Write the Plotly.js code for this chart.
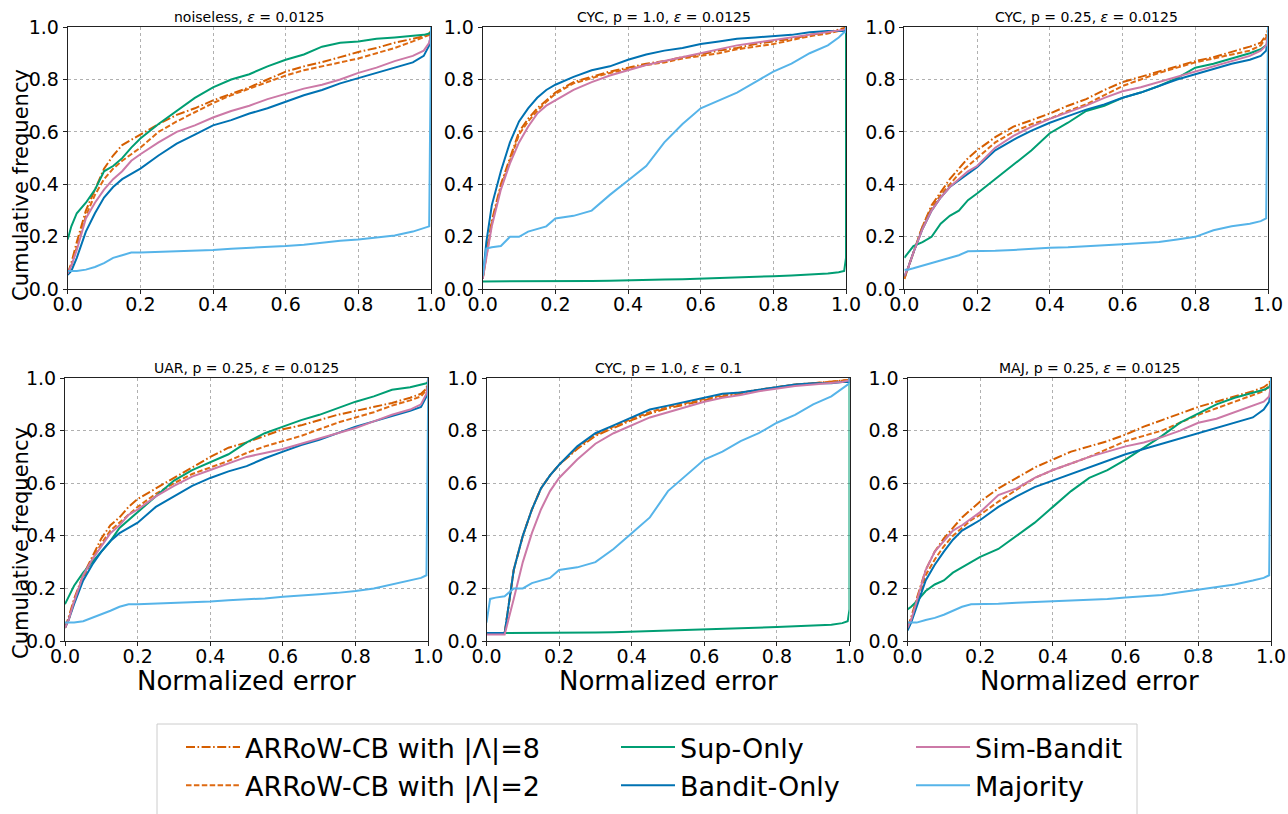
<!DOCTYPE html>
<html>
<head>
<meta charset="utf-8">
<script src="https://cdn.plot.ly/plotly-3.0.1.min.js"></script>
<style>html,body{margin:0;padding:0;background:#fff;}</style>
</head>
<body>
<div id="chart" style="width:1288px;height:814px;"></div>
<script>
// ---------- data ----------
const XG = [0, 0.01, 0.025, 0.05, 0.075, 0.1, 0.125, 0.15, 0.175, 0.2, 0.25, 0.3, 0.35, 0.4, 0.45, 0.5, 0.55, 0.6, 0.65, 0.7, 0.75, 0.8, 0.85, 0.9, 0.95, 0.98, 0.995, 1, 1];

const PANEL_TITLES = ['noiseless, <i>ε</i> = 0.0125', 'CYC, p = 1.0, <i>ε</i> = 0.0125', 'CYC, p = 0.25, <i>ε</i> = 0.0125',
                      'UAR, p = 0.25, <i>ε</i> = 0.0125', 'CYC, p = 1.0, <i>ε</i> = 0.1', 'MAJ, p = 0.25, <i>ε</i> = 0.0125'];
const SERIES_NAMES = ['ARRoW-CB with |Λ|=8', 'ARRoW-CB with |Λ|=2', 'Sup-Only', 'Bandit-Only', 'Sim-Bandit', 'Majority'];
const X_TICKS = [0, 0.2, 0.4, 0.6, 0.8, 1.0];
const TICK_TEXT = ['0.0', '0.2', '0.4', '0.6', '0.8', '1.0'];

// panel 1: noiseless
const noiseless_a8 = [0.06,0.10,0.18,0.30,0.38,0.46,0.51,0.55,0.57,0.59,0.63,0.665,0.69,0.72,0.745,0.77,0.80,0.83,0.85,0.866,0.885,0.905,0.92,0.94,0.955,0.965,0.975,0.985,1.0];
const noiseless_a2 = [0.06,0.09,0.16,0.28,0.36,0.42,0.46,0.49,0.515,0.54,0.60,0.64,0.675,0.71,0.74,0.765,0.79,0.815,0.835,0.85,0.865,0.88,0.90,0.92,0.945,0.96,0.97,0.98,1.0];
const noiseless_sup = [0.19,0.24,0.29,0.33,0.38,0.45,0.47,0.50,0.54,0.575,0.63,0.68,0.73,0.77,0.80,0.82,0.85,0.875,0.895,0.925,0.94,0.945,0.955,0.96,0.965,0.97,0.975,0.98,1.0];
const noiseless_bandit = [0.055,0.07,0.12,0.22,0.29,0.35,0.39,0.42,0.44,0.46,0.51,0.555,0.59,0.625,0.645,0.67,0.69,0.715,0.74,0.76,0.785,0.805,0.825,0.845,0.865,0.89,0.93,0.98,1.0];
const noiseless_sim = [0.06,0.09,0.15,0.27,0.33,0.38,0.42,0.45,0.49,0.515,0.56,0.60,0.625,0.655,0.68,0.70,0.725,0.745,0.765,0.78,0.80,0.825,0.845,0.87,0.89,0.91,0.94,0.97,1.0];
const noiseless_maj = [0.07,0.07,0.07,0.075,0.085,0.10,0.12,0.13,0.14,0.14,0.142,0.145,0.148,0.15,0.155,0.158,0.16,0.165,0.17,0.178,0.185,0.19,0.198,0.205,0.22,0.235,0.24,0.98,1.0];

// panel 2: CYC p=1.0 eps=0.0125
const cyc1_a8 = [0.04,0.14,0.26,0.40,0.50,0.60,0.65,0.69,0.72,0.75,0.79,0.81,0.83,0.845,0.86,0.87,0.885,0.895,0.91,0.92,0.935,0.945,0.955,0.97,0.98,0.99,0.995,0.998,1.0];
const cyc1_a2 = [0.04,0.13,0.25,0.39,0.49,0.59,0.64,0.68,0.715,0.745,0.785,0.805,0.825,0.84,0.855,0.865,0.88,0.89,0.90,0.915,0.925,0.935,0.95,0.965,0.975,0.985,0.99,0.995,1.0];
const cyc1_sup = [0.03,0.03,0.03,0.03,0.03,0.03,0.03,0.03,0.03,0.03,0.031,0.032,0.033,0.035,0.036,0.037,0.038,0.04,0.042,0.045,0.047,0.05,0.053,0.056,0.06,0.065,0.07,0.12,1.0];
const cyc1_bandit = [0.04,0.18,0.32,0.45,0.56,0.64,0.69,0.73,0.76,0.78,0.81,0.835,0.85,0.875,0.895,0.91,0.92,0.935,0.945,0.955,0.96,0.965,0.97,0.98,0.985,0.985,0.985,0.985,1.0];
const cyc1_sim = [0.04,0.12,0.24,0.38,0.48,0.56,0.62,0.67,0.70,0.72,0.76,0.79,0.815,0.835,0.855,0.87,0.885,0.90,0.915,0.93,0.94,0.95,0.96,0.97,0.98,0.985,0.99,0.995,1.0];
const cyc1_maj = [0.05,0.155,0.16,0.165,0.20,0.20,0.22,0.23,0.24,0.27,0.28,0.30,0.36,0.415,0.47,0.56,0.63,0.69,0.72,0.75,0.79,0.83,0.86,0.90,0.93,0.96,0.98,0.98,1.0];

// panel 3: CYC p=0.25 eps=0.0125
const cyc25_a8 = [0.04,0.08,0.14,0.24,0.32,0.37,0.42,0.46,0.50,0.53,0.58,0.62,0.645,0.67,0.70,0.725,0.76,0.79,0.81,0.83,0.85,0.87,0.885,0.905,0.925,0.94,0.97,0.99,1.0];
const cyc25_a2 = [0.04,0.08,0.14,0.24,0.31,0.36,0.40,0.44,0.47,0.50,0.56,0.60,0.63,0.65,0.68,0.705,0.74,0.775,0.80,0.825,0.845,0.865,0.88,0.895,0.91,0.93,0.96,0.985,1.0];
const cyc25_sup = [0.12,0.14,0.165,0.18,0.20,0.25,0.28,0.30,0.34,0.365,0.42,0.475,0.53,0.595,0.635,0.68,0.70,0.73,0.75,0.775,0.805,0.845,0.86,0.88,0.90,0.915,0.93,0.94,1.0];
const cyc25_bandit = [0.05,0.08,0.14,0.23,0.30,0.35,0.39,0.415,0.44,0.465,0.53,0.57,0.605,0.635,0.66,0.685,0.705,0.73,0.75,0.775,0.80,0.82,0.84,0.86,0.875,0.89,0.91,0.96,1.0];
const cyc25_sim = [0.05,0.08,0.14,0.23,0.30,0.35,0.39,0.42,0.45,0.47,0.54,0.585,0.62,0.65,0.675,0.70,0.73,0.755,0.77,0.79,0.81,0.83,0.85,0.87,0.89,0.91,0.93,0.97,1.0];
const cyc25_maj = [0.075,0.075,0.08,0.09,0.10,0.11,0.12,0.13,0.145,0.145,0.147,0.15,0.155,0.158,0.16,0.165,0.168,0.172,0.175,0.18,0.19,0.20,0.225,0.24,0.25,0.26,0.27,0.98,1.0];

// panel 4: UAR p=0.25 eps=0.0125
const uar_a8 = [0.05,0.09,0.16,0.25,0.32,0.39,0.44,0.47,0.51,0.54,0.58,0.62,0.66,0.70,0.735,0.755,0.78,0.805,0.82,0.84,0.86,0.875,0.89,0.905,0.925,0.94,0.96,0.99,1.0];
const uar_a2 = [0.05,0.08,0.15,0.24,0.31,0.37,0.42,0.45,0.48,0.51,0.56,0.60,0.635,0.66,0.685,0.715,0.74,0.76,0.78,0.805,0.83,0.85,0.87,0.895,0.915,0.93,0.955,0.98,1.0];
const uar_sup = [0.14,0.17,0.21,0.26,0.30,0.34,0.38,0.43,0.46,0.49,0.55,0.61,0.65,0.68,0.71,0.755,0.79,0.815,0.84,0.86,0.885,0.91,0.93,0.955,0.965,0.975,0.98,0.985,1.0];
const uar_bandit = [0.05,0.08,0.14,0.23,0.29,0.34,0.38,0.41,0.43,0.45,0.51,0.55,0.59,0.62,0.645,0.665,0.695,0.72,0.745,0.765,0.79,0.815,0.835,0.855,0.875,0.89,0.93,0.98,1.0];
const uar_sim = [0.05,0.08,0.15,0.25,0.31,0.36,0.41,0.44,0.48,0.50,0.55,0.59,0.625,0.65,0.675,0.70,0.715,0.73,0.75,0.77,0.79,0.81,0.835,0.86,0.88,0.90,0.94,0.98,1.0];
const uar_maj = [0.07,0.07,0.07,0.075,0.088,0.10,0.115,0.13,0.14,0.14,0.142,0.145,0.148,0.15,0.155,0.158,0.162,0.168,0.172,0.178,0.183,0.19,0.20,0.215,0.23,0.24,0.25,0.99,1.0];

// panel 5: CYC p=1.0 eps=0.1
const cyc1e_a8 = [0.03,0.03,0.03,0.03,0.27,0.40,0.50,0.58,0.63,0.67,0.73,0.78,0.81,0.84,0.865,0.885,0.90,0.915,0.93,0.94,0.955,0.965,0.975,0.98,0.985,0.99,0.992,0.995,1.0];
const cyc1e_a2 = [0.03,0.03,0.03,0.03,0.27,0.40,0.50,0.58,0.63,0.67,0.735,0.785,0.815,0.845,0.87,0.89,0.905,0.92,0.935,0.945,0.955,0.965,0.975,0.98,0.985,0.99,0.993,0.995,1.0];
const cyc1e_sup = [0.03,0.03,0.03,0.03,0.03,0.03,0.03,0.03,0.03,0.03,0.031,0.032,0.033,0.035,0.037,0.039,0.041,0.044,0.046,0.048,0.05,0.053,0.056,0.058,0.062,0.068,0.075,0.12,1.0];
const cyc1e_bandit = [0.03,0.03,0.03,0.03,0.27,0.40,0.50,0.58,0.63,0.67,0.74,0.79,0.82,0.85,0.88,0.895,0.91,0.925,0.94,0.945,0.955,0.965,0.975,0.98,0.98,0.985,0.985,0.985,1.0];
const cyc1e_sim = [0.025,0.025,0.025,0.025,0.16,0.30,0.41,0.50,0.57,0.62,0.69,0.75,0.79,0.82,0.85,0.87,0.89,0.91,0.925,0.935,0.95,0.96,0.97,0.975,0.98,0.985,0.99,0.99,1.0];
const cyc1e_maj = [0.07,0.16,0.165,0.17,0.20,0.20,0.22,0.23,0.24,0.27,0.28,0.30,0.35,0.41,0.47,0.57,0.63,0.69,0.72,0.76,0.79,0.83,0.86,0.90,0.93,0.96,0.975,0.98,1.0];

// panel 6: MAJ p=0.25 eps=0.0125
const maj_a8 = [0.05,0.09,0.16,0.27,0.34,0.39,0.43,0.47,0.50,0.53,0.58,0.62,0.66,0.69,0.72,0.74,0.76,0.785,0.815,0.84,0.865,0.89,0.91,0.93,0.95,0.965,0.98,1.0,1.0];
const maj_a2 = [0.05,0.08,0.14,0.25,0.31,0.36,0.40,0.43,0.46,0.48,0.53,0.575,0.62,0.65,0.675,0.70,0.73,0.76,0.78,0.80,0.83,0.86,0.885,0.91,0.935,0.95,0.97,0.99,1.0];
const maj_sup = [0.12,0.13,0.15,0.19,0.215,0.23,0.26,0.28,0.30,0.32,0.35,0.40,0.45,0.51,0.57,0.62,0.65,0.69,0.735,0.78,0.83,0.865,0.90,0.925,0.945,0.955,0.965,0.98,1.0];
const maj_bandit = [0.04,0.07,0.13,0.23,0.29,0.34,0.385,0.42,0.44,0.46,0.51,0.55,0.585,0.61,0.635,0.66,0.685,0.71,0.73,0.75,0.77,0.79,0.81,0.83,0.85,0.88,0.91,0.97,1.0];
const maj_sim = [0.05,0.08,0.15,0.27,0.34,0.38,0.42,0.44,0.465,0.49,0.555,0.58,0.62,0.65,0.675,0.70,0.72,0.74,0.755,0.775,0.80,0.83,0.845,0.87,0.895,0.91,0.93,0.975,1.0];
const maj_maj = [0.07,0.07,0.07,0.08,0.088,0.10,0.115,0.13,0.14,0.14,0.142,0.145,0.148,0.15,0.153,0.156,0.16,0.165,0.17,0.175,0.185,0.195,0.205,0.215,0.23,0.24,0.25,0.98,1.0];

const PANELS = [
  [noiseless_a8, noiseless_a2, noiseless_sup, noiseless_bandit, noiseless_sim, noiseless_maj],
  [cyc1_a8, cyc1_a2, cyc1_sup, cyc1_bandit, cyc1_sim, cyc1_maj],
  [cyc25_a8, cyc25_a2, cyc25_sup, cyc25_bandit, cyc25_sim, cyc25_maj],
  [uar_a8, uar_a2, uar_sup, uar_bandit, uar_sim, uar_maj],
  [cyc1e_a8, cyc1e_a2, cyc1e_sup, cyc1e_bandit, cyc1e_sim, cyc1e_maj],
  [maj_a8, maj_a2, maj_sup, maj_bandit, maj_sim, maj_maj]
];

// ---------- styling ----------
const W = 1288, H = 814;
const FONT = 'DejaVu Sans, sans-serif';
const COLORS = ['#D55E00', '#DE6A12', '#009E73', '#0072B2', '#CC79A7', '#56B4E9'];
const DASHES = ['9px,2.5px,1.6px,2.5px', '5.5px,2.4px', 'solid', 'solid', 'solid', 'solid'];
const LEGEND_OF = ['legend', 'legend', 'legend2', 'legend2', 'legend3', 'legend3'];
// panel boxes in pixels: [left, right, top, bottom]
const BOXES = [
  [67.7, 431, 27, 289.3], [482.7, 846, 27, 289.3], [904.3, 1268, 27, 289.3],
  [65, 428.3, 378, 641], [486.5, 849.5, 378, 641], [907.5, 1271, 378, 641]
];
const px = v => v / W, py = v => 1 - v / H;

const traces = [];
const layout = {
  width: W, height: H,
  margin: {l: 0, r: 0, t: 0, b: 0},
  paper_bgcolor: '#fff', plot_bgcolor: '#fff',
  font: {family: FONT, color: '#000'},
  annotations: [], shapes: []
};

BOXES.forEach((b, i) => {
  const n = i + 1, sx = n === 1 ? '' : String(n);
  const common = {
    range: [0, 1], tickvals: X_TICKS, ticktext: TICK_TEXT,
    showline: true, mirror: true, linecolor: '#222', linewidth: 1,
    ticks: 'outside', ticklen: 4, tickwidth: 1, tickcolor: '#222',
    tickfont: {family: FONT, size: 19, color: '#000'},
    showgrid: true, gridcolor: '#b0b0b0', gridwidth: 1, griddash: 'dot',
    zeroline: false, fixedrange: true
  };
  layout['xaxis' + sx] = Object.assign({}, common, {domain: [px(b[0]), px(b[1])], anchor: 'y' + sx, ticklabelstandoff: -6});
  layout['yaxis' + sx] = Object.assign({}, common, {domain: [py(b[3]), py(b[2])], anchor: 'x' + sx});
  layout.annotations.push({
    text: PANEL_TITLES[i], xref: 'paper', yref: 'paper',
    x: px((b[0] + b[1]) / 2), y: py(b[2]), xanchor: 'center', yanchor: 'bottom', yshift: 0,
    showarrow: false, font: {family: FONT, size: 14, color: '#000'}
  });
  PANELS[i].forEach((ys, k) => {
    traces.push({
      type: 'scatter', mode: 'lines', x: XG, y: ys,
      xaxis: 'x' + sx, yaxis: 'y' + sx,
      name: SERIES_NAMES[k], legendgroup: 'g' + k, legend: LEGEND_OF[k],
      showlegend: i === 0,
      line: {color: COLORS[k], width: 2, dash: DASHES[k]},
      hoverinfo: 'skip'
    });
  });
});

// axis titles (placed as in the reference)
[[21, 185], [21, 543]].forEach(p => layout.annotations.push({
  text: 'Cumulative frequency', textangle: -90, xref: 'paper', yref: 'paper',
  x: px(p[0]), y: py(p[1]), xanchor: 'center', yanchor: 'middle', showarrow: false,
  font: {family: FONT, size: 21, color: '#000'}
}));
[3, 4, 5].forEach(i => layout.annotations.push({
  text: 'Normalized error', xref: 'paper', yref: 'paper',
  x: px((BOXES[i][0] + BOXES[i][1]) / 2), y: py(681), xanchor: 'center', yanchor: 'middle', showarrow: false,
  font: {family: FONT, size: 26, color: '#000'}
}));

// legend frame
layout.shapes.push({
  type: 'rect', xref: 'paper', yref: 'paper',
  x0: px(157), x1: px(1137), y0: py(830), y1: py(724),
  line: {color: '#cccccc', width: 1}, fillcolor: 'rgba(255,255,255,0.8)', layer: 'below'
});
const legendBase = {
  orientation: 'v', xanchor: 'left', yanchor: 'top', y: py(723),
  bgcolor: 'rgba(0,0,0,0)', borderwidth: 0,
  font: {family: FONT, size: 27, color: '#000'},
  traceorder: 'grouped', tracegroupgap: 0, itemwidth: 54
};
layout.legend = Object.assign({}, legendBase, {x: px(181)});
layout.legend2 = Object.assign({}, legendBase, {x: px(616)});
layout.legend3 = Object.assign({}, legendBase, {x: px(911)});

Plotly.newPlot('chart', traces, layout, {displayModeBar: false, staticPlot: true});
</script>
</body>
</html>
